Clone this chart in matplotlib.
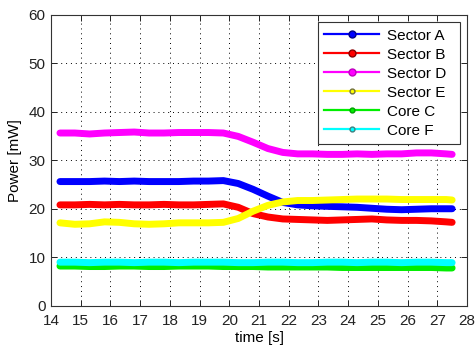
import matplotlib
matplotlib.use("Agg")
import matplotlib.pyplot as plt
from matplotlib.lines import Line2D

plt.rcParams['font.family'] = ['Liberation Sans', 'DejaVu Sans']

time_s = [14.3, 14.8, 15.3, 15.8, 16.3, 16.8, 17.3, 17.8, 18.3, 18.8, 19.3, 19.8,
          20.3, 20.8, 21.3, 21.8, 22.3, 22.8, 23.3, 23.8, 24.3, 24.8, 25.3, 25.8,
          26.3, 26.8, 27.3, 27.5]

sector_a = [25.6, 25.6, 25.6, 25.7, 25.6, 25.7, 25.6, 25.6, 25.6, 25.7, 25.7, 25.8,
            25.2, 24.0, 22.6, 21.3, 20.8, 20.6, 20.5, 20.4, 20.3, 20.1, 19.9, 19.8,
            19.9, 20.0, 20.0, 20.0]
sector_b = [20.8, 20.8, 20.9, 20.8, 20.9, 20.8, 20.8, 20.9, 20.8, 20.8, 20.9, 21.0,
            20.3, 19.0, 18.3, 17.9, 17.8, 17.7, 17.6, 17.7, 17.8, 17.9, 17.7, 17.6,
            17.6, 17.5, 17.3, 17.2]
sector_d = [35.6, 35.6, 35.4, 35.6, 35.7, 35.8, 35.6, 35.6, 35.7, 35.7, 35.7, 35.6,
            34.9, 33.7, 32.4, 31.6, 31.3, 31.3, 31.2, 31.2, 31.3, 31.2, 31.3, 31.3,
            31.5, 31.5, 31.3, 31.2]
sector_e = [17.1, 16.8, 16.9, 17.3, 17.2, 16.9, 16.8, 16.9, 17.1, 17.1, 17.1, 17.2,
            18.0, 19.5, 20.7, 21.4, 21.7, 21.7, 21.8, 21.9, 22.0, 22.0, 22.0, 21.9,
            21.9, 21.9, 21.9, 21.8]
core_c = [8.2, 8.2, 8.1, 8.1, 8.2, 8.2, 8.1, 8.1, 8.2, 8.2, 8.2, 8.1,
          8.1, 8.1, 8.0, 8.0, 8.0, 8.0, 8.0, 7.9, 7.9, 7.9, 7.9, 7.9,
          7.9, 7.9, 7.8, 7.8]
core_f = [9.0, 9.0, 8.9, 9.0, 9.0, 8.9, 9.0, 9.0, 8.9, 9.0, 9.0, 9.0,
          8.9, 8.9, 9.0, 9.0, 8.9, 8.9, 9.0, 9.0, 8.9, 9.0, 9.0, 8.9,
          9.0, 9.0, 8.9, 8.9]

series = [
    ("Sector A", sector_a, "#0000ff", "o", "#00008a"),
    ("Sector B", sector_b, "#ff0000", "o", "#8a0000"),
    ("Sector D", sector_d, "#ff00ff", "o", "#c000c0"),
    ("Sector E", sector_e, "#ffff00", ".", "#707040"),
    ("Core C", core_c, "#00ee00", ".", "#00a000"),
    ("Core F", core_f, "#00ffff", ".", "#408080"),
]

fig = plt.figure(figsize=(4.77, 3.46), dpi=100)
ax = fig.add_axes([0.107, 0.116, 0.872, 0.842])

handles = []
for name, vals, color, mk, edge in series:
    ax.plot(time_s, vals, color=color, lw=5, solid_capstyle='round',
            solid_joinstyle='round', zorder=3)
    handles.append(Line2D([], [], color=color, lw=1.6, marker=mk,
                          markersize=5 if mk == "o" else 7,
                          markerfacecolor=color, markeredgecolor=edge,
                          markeredgewidth=1.0, label=name))

ax.set_xlim(14, 28)
ax.set_ylim(0, 60)
ax.set_xticks(range(14, 29))
ax.set_yticks(range(0, 61, 10))
ax.grid(True, color='black', linestyle=(0, (1, 4)), linewidth=0.7)
ax.set_axisbelow(True)
ax.tick_params(direction='in', length=4, width=0.7, top=True, right=True,
               labelsize=11, colors='#222222')
ax.tick_params(axis='x', pad=6)
ax.tick_params(axis='y', pad=4)
for sp in ax.spines.values():
    sp.set_linewidth(0.8)
    sp.set_color('#333333')

ax.set_xlabel("time [s]", fontsize=11, labelpad=2)
ax.set_ylabel("Power [mW]", fontsize=11, labelpad=5)

leg = ax.legend(handles=handles, loc='upper left',
                bbox_to_anchor=(0.642, 0.575, 0.341, 0.398), mode='expand',
                fontsize=11, handlelength=3.6, handletextpad=0.5,
                labelspacing=0.33, borderpad=0.4, borderaxespad=0.0,
                fancybox=False, framealpha=1, edgecolor='#333333')
leg.get_frame().set_linewidth(0.8)

fig.savefig("out.png", dpi=100)
